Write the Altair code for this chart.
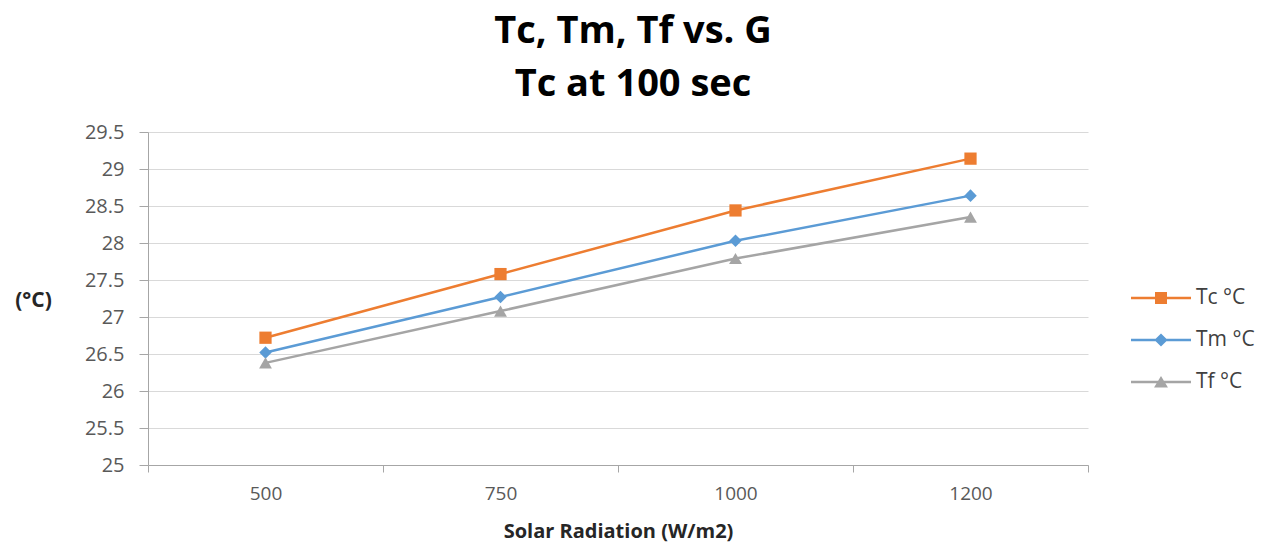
import altair as alt
import pandas as pd

radiation = ["500", "750", "1000", "1200"]
series = ["Tc °C", "Tm °C", "Tf °C"]
tc = [26.72, 27.58, 28.44, 29.14]
tm = [26.52, 27.27, 28.03, 28.64]
tf = [26.38, 27.08, 27.79, 28.35]
y_ticks = [25, 25.5, 26, 26.5, 27, 27.5, 28, 28.5, 29, 29.5]
colors = ["#ED7D31", "#5B9BD5", "#A5A5A5"]
shapes = ["square", "diamond", "triangle-up"]
marker_sizes = [150, 165, 150]
legend_paths = [
    "M-2.5,-0.1H2.5V0.1H-2.5Z M-0.5,-0.5H0.5V0.5H-0.5Z",
    "M-2.5,-0.1H2.5V0.1H-2.5Z M0,-0.55L0.55,0L0,0.55L-0.55,0Z",
    "M-2.5,-0.1H2.5V0.1H-2.5Z M0,-0.5L0.58,0.45L-0.58,0.45Z",
]

rows = []
for name, vals in zip(series, [tc, tm, tf]):
    for r, v in zip(radiation, vals):
        rows.append({"G": r, "series": name, "T": v})
df = pd.DataFrame(rows)

FONT = "Open Sans"

x_enc = alt.X(
    "G:O",
    sort=radiation,
    scale=alt.Scale(type="band", paddingInner=0, paddingOuter=0),
    axis=alt.Axis(
        title="Solar Radiation (W/m2)",
        labelAngle=0,
        tickBand="extent",
        tickSize=7,
        tickColor="#A6A6A6",
        domainColor="#A6A6A6",
        domainWidth=1,
        labelFont=FONT,
        labelFontSize=19,
        labelColor="#595959",
        labelPadding=12,
        titleFont=FONT,
        titleFontSize=20,
        titleFontWeight="bold",
        titleColor="#262626",
        titlePadding=18,
        grid=False,
    ),
)

y_enc = alt.Y(
    "T:Q",
    scale=alt.Scale(domain=[25, 29.5], nice=False, zero=False),
    axis=alt.Axis(
        values=y_ticks,
        format=".1~f",
        title="(°C)",
        titleAngle=0,
        titleX=-115,
        titleY=168,
        titleAlign="center",
        titleBaseline="middle",
        titleFont=FONT,
        titleFontSize=21,
        titleFontWeight="bold",
        titleColor="#262626",
        labelFont=FONT,
        labelFontSize=20,
        labelColor="#595959",
        labelPadding=15,
        tickSize=9,
        tickColor="#A6A6A6",
        domainColor="#A6A6A6",
        grid=True,
        gridColor="#D9D9D9",
        gridWidth=1,
    ),
)

color_enc = alt.Color("series:N", scale=alt.Scale(domain=series, range=colors), legend=None)

lines = alt.Chart(df).mark_line(strokeWidth=2.5).encode(
    x=x_enc, y=y_enc, color=color_enc, detail="series:N"
)

points = alt.Chart(df).mark_point(filled=True, opacity=1).encode(
    x=x_enc,
    y=y_enc,
    color=color_enc,
    shape=alt.Shape("series:N", scale=alt.Scale(domain=series, range=shapes), legend=None),
    size=alt.Size("series:N", scale=alt.Scale(domain=series, range=marker_sizes), legend=None),
)

leg = alt.Legend(
    title=None,
    orient="none",
    legendX=983,
    legendY=154,
    symbolSize=576,
    symbolOffset=18,
    labelOffset=23,
    labelFont=FONT,
    labelFontSize=21,
    labelColor="#404040",
    rowPadding=20,
    symbolOpacity=1,
    symbolStrokeWidth=0,
)

legend_layer = alt.Chart(df).mark_point(filled=True, opacity=0).encode(
    x=x_enc,
    y=y_enc,
    fill=alt.Fill("series:N", scale=alt.Scale(domain=series, range=colors), legend=leg),
    shape=alt.Shape("series:N", scale=alt.Scale(domain=series, range=legend_paths), legend=leg),
)

chart = (
    alt.layer(lines, points, legend_layer)
    .resolve_scale(shape="independent", fill="independent")
    .properties(
        width=940,
        height=333,
        autosize=alt.AutoSizeParams(type="none"),
        padding={"left": 148, "top": 132, "right": 194, "bottom": 77},
        background="white",
        title=alt.TitleParams(
            ["Tc, Tm, Tf vs. G", "Tc at 100 sec"],
            font=FONT,
            fontSize=38,
            fontWeight="bold",
            color="black",
            anchor="middle",
            dx=15,
            offset=18,
            lineHeight=53,
        ),
    )
    .configure_view(stroke=None)
)

chart.save("out.html", embed_options={"renderer": "svg", "actions": False})
